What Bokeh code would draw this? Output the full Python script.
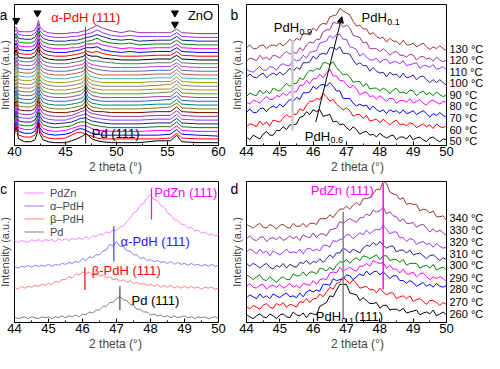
import math
import numpy as np
from bokeh.plotting import figure
from bokeh.models import (Label, Arrow, NormalHead, FixedTicker, Legend, LegendItem, Range1d)
from bokeh.layouts import row, column
from bokeh.embed import file_html
from bokeh.resources import INLINE

FONT = "Liberation Sans"

# ---------------- Panel a : in-situ XRD, 30 scans (2 theta 40-60) ----------------
theta_a = [40.0, 40.15, 40.4, 41.0, 41.6, 42.0, 42.2, 42.35, 42.5, 42.8, 43.3, 44.0,
           45.0, 45.6, 46.1, 46.5, 46.8, 47.0, 47.2, 47.6, 48.1, 48.6, 49.5, 50.5, 51.3, 52.2,
           54.0, 55.3, 55.9, 56.4, 58.0, 60.0]
a01 = [9,17,4,1,1,3,9,20,9,3,1,0, 0,2,4,6,8,10,8,4,2,1,0,0,0,0, 2,2,8,1,0,0]
a02 = [8,15,4,2,2,4,9,18,9,3,1,0, 1,4,7,7,6,5,4,3,1,0,0,0,0,0, 0,1,6,1,0,0]
a03 = [8,15,4,2,2,4,9,17,8,3,1,0, 1,3,6,7,6,5,4,2,1,0,0,0,0,0, 0,1,6,1,0,-1]
a04 = [8,14,4,2,2,4,9,17,8,3,1,0, 1,3,5,6,6,6,5,3,1,1,0,0,0,0, 1,1,6,1,0,0]
a05 = [7,14,3,2,2,4,9,16,8,3,1,0, 1,2,5,6,6,6,5,3,2,1,0,0,0,0, 1,1,6,1,0,0]
a06 = [7,14,3,2,2,4,9,16,8,3,1,0, 1,2,4,6,6,7,5,3,2,1,0,0,0,0, 1,1,6,1,0,0]
a07 = [7,13,3,2,2,4,9,16,8,3,1,0, 0,2,4,5,6,7,5,3,2,1,0,0,0,0, 1,1,6,1,0,0]
a08 = [7,13,3,2,2,4,9,16,8,3,1,0, 0,1,3,5,6,8,5,3,2,1,0,0,0,0, 1,1,6,1,0,0]
a09 = [7,13,3,2,2,4,9,16,8,3,1,0, 0,1,2,4,5,9,5,2,1,1,0,0,0,0, 1,1,6,1,0,0]
a10 = [7,13,3,2,2,4,9,15,8,3,1,0, 0,1,2,3,5,10,5,2,1,0,0,0,0,0, 1,2,6,1,0,0]
a11 = [7,13,3,2,2,4,9,15,8,3,1,0, 0,1,2,3,5,10,5,2,1,0,0,0,0,0, 1,1,6,1,0,0]
a12 = [7,12,3,2,2,4,9,15,8,3,1,0, 0,1,2,3,5,11,5,2,1,0,0,0,0,0, 1,2,6,1,0,0]
a13 = [7,12,3,2,2,4,9,15,8,3,1,0, 0,1,2,3,6,11,6,2,1,0,0,0,0,0, 1,1,6,1,0,0]
a14 = [7,12,3,2,2,4,9,15,8,3,1,0, 0,1,2,3,5,10,5,2,1,0,0,0,0,0, 1,2,6,1,0,0]
a15 = [7,12,3,2,2,4,9,15,8,3,1,0, 0,1,2,3,5,10,5,2,1,0,0,0,0,0, 1,1,6,1,0,0]
a16 = [7,12,3,2,2,4,8,15,7,3,1,0, 0,1,2,3,5,10,5,2,1,0,0,0,0,0, 1,2,6,1,0,0]
a17 = [7,12,3,2,2,4,8,15,7,3,1,0, 0,1,2,3,5,9,5,2,1,0,0,0,0,0, 1,1,6,1,0,0]
a18 = [6,12,3,2,2,4,8,15,7,3,1,0, 0,1,2,3,5,9,5,2,1,0,0,0,0,0, 1,1,6,1,0,0]
a19 = [6,12,3,2,2,4,8,14,7,3,1,0, 0,1,2,3,4,9,5,3,1,0,0,0,0,0, 1,1,6,1,0,0]
a20 = [6,12,3,2,2,4,8,14,7,3,1,0, 0,1,2,3,4,9,5,3,2,1,0,0,0,0, 1,1,6,1,0,0]
a21 = [6,11,3,2,2,4,8,14,7,3,1,0, 0,1,2,3,4,8,5,3,2,1,0,0,0,0, 1,1,5,1,0,0]
a22 = [6,11,3,2,2,4,8,14,7,3,1,0, 0,1,2,3,4,8,5,3,3,2,1,0,0,0, 1,1,5,1,0,0]
a23 = [6,11,3,2,2,4,8,14,7,3,1,0, 0,1,2,3,4,7,5,4,4,2,1,0,0,0, 1,1,5,1,0,0]
a24 = [6,10,3,2,2,4,8,14,7,3,1,0, 0,1,2,3,4,6,5,4,5,3,1,0,0,0, 1,1,5,1,0,0]
a25 = [6,10,3,2,2,4,8,14,7,3,1,0, 0,1,2,3,4,5,5,5,6,3,1,0,1,0, 1,1,5,1,0,0]
a26 = [6,9,3,2,2,4,8,14,7,3,1,0, 0,1,1,2,3,5,5,5,6,4,2,0,1,0, 1,1,5,1,0,0]
a27 = [6,9,3,2,2,4,8,14,7,3,1,0, 0,1,1,2,3,4,4,5,7,4,2,1,2,0, 1,1,5,1,0,0]
a28 = [5,8,3,2,2,4,8,14,7,3,1,0, 0,1,1,2,3,4,4,5,7,5,2,1,2,0, 1,1,5,1,0,0]
a29 = [5,8,3,2,2,4,8,14,7,3,1,0, 0,1,1,2,3,3,4,5,8,5,2,1,2,1, 1,1,5,1,0,0]
a30 = [5,7,2,2,2,4,8,14,7,3,1,0, 0,1,1,2,3,3,4,6,9,6,3,1,3,1, 1,1,5,1,0,0]
scans_a = [a01, a02, a03, a04, a05, a06, a07, a08, a09, a10, a11, a12, a13, a14, a15,
           a16, a17, a18, a19, a20, a21, a22, a23, a24, a25, a26, a27, a28, a29, a30]
znO_marks_x = [40.17, 42.25, 55.73, 55.73]
znO_marks_y = [133, 141, 141, 129]
ticks_a = [40, 45, 50, 55, 60]
minor_a = [42.5, 47.5, 52.5, 57.5]

# ---------------- Panel b : 50-130 C (2 theta 44.0-50.0, step 0.1) ----------------
temps_b = ["50 °C", "60 °C", "70 °C", "80 °C", "90 °C", "100 °C", "110 °C", "120 °C", "130 °C"]
b50 = [3,0,5,3,1,6,9,5,5,10, 10,14,11,16,16,17,24,25,30,27, 32,30,32,25,26,27,19,20,16,17,
       13,10,14,11,6,8,9,5,6,3, 7,4,2,4,5,0,3,3,1,5, 0,2,3,0,-2,2,3,0,-2,1,0]
b60 = [-1,2,1,-1,5,1,4,0,6,5, 4,8,12,9,12,12,18,16,22,26, 26,29,28,34,31,26,28,23,20,17,
       19,16,10,12,12,8,11,5,6,7, 3,7,4,1,4,6,1,2,0,3, 2,-2,0,2,-1,1,-3,2,-1,-2,0]
b70 = [0,4,0,0,4,5,1,5,7,5, 9,6,10,14,12,16,14,21,21,22, 28,25,29,30,28,32,28,23,23,15,
       15,15,10,7,9,7,8,3,7,3, 1,3,-1,3,1,2,-1,3,-1,0, 2,-2,0,2,-1,-5,-1,-3,0,-3,-5]
b80 = [1,-1,3,2,0,4,7,4,4,8, 7,11,8,12,12,12,19,19,24,21, 26,26,31,27,32,36,29,29,24,24,
       20,16,19,15,9,11,12,7,8,4, 8,5,2,5,5,0,3,3,1,5, 0,2,4,0,-2,2,3,1,-1,2,1]
b90 = [-1,3,1,0,6,2,5,2,8,6, 5,9,13,10,13,13,19,17,23,27, 26,29,28,35,35,33,36,30,26,22,
       23,20,14,15,15,10,13,7,8,8, 5,8,6,2,6,8,3,4,2,6, 5,0,3,5,1,3,0,4,1,-1,1]
b100 = [0,3,0,-1,2,4,-1,2,4,2, 5,2,5,9,6,10,8,15,15,16, 22,19,24,25,24,31,31,29,32,25,
        25,24,18,13,15,12,12,6,10,6, 4,5,0,5,2,3,-1,4,-1,0, 2,-3,0,1,-3,-6,-3,-6,-3,-6,-9]
b110 = [2,0,-1,2,5,1,1,5,4,1, 6,8,6,6,13,11,12,17,14,20, 21,22,30,31,32,38,35,39,39,34,
        34,26,25,23,16,19,15,12,12,14, 9,12,13,8,10,10,8,11,6,7, 8,9,3,6,6,4,7,2,3,5,1]
b120 = [-1,2,1,-1,5,1,3,0,5,4, 2,6,9,6,8,7,13,10,16,19, 18,22,22,30,32,32,40,39,39,35,
        37,34,26,25,24,18,19,12,12,12, 9,12,9,5,8,9,5,5,3,6, 5,0,3,4,1,2,-1,3,0,-2,0]
b130 = [0,3,-1,-1,2,3,-1,2,3,2, 5,2,5,9,6,10,8,15,15,15, 21,18,24,26,25,33,34,35,42,39,
        37,35,28,23,24,20,20,14,16,12, 10,11,6,10,7,7,3,8,3,3, 5,1,3,5,1,-2,1,-1,2,-1,-3]
scans_b = [b50, b60, b70, b80, b90, b100, b110, b120, b130]
offset_b = [6, 21, 35, 45, 53, 73, 79, 91, 104]
label_y_b = [5, 17, 29, 42, 54, 66, 78, 91, 103]

# ---------------- Panel c : references ----------------
c_pd = [1,-1,0,1,-1,1,0,-1,1,0, 1,-1,1,0,2,0,2,1,3,1, 4,3,6,5,8,8,12,12,16,16,
        20,22,19,18,14,13,9,9,6,6, 3,4,2,3,1,2,0,2,0,1, 2,0,1,-1,1,0,1,-1,0,1,-1]
c_beta = [1,-1,2,0,2,1,3,2,4,3, 5,4,7,6,9,9,12,11,15,14, 17,15,17,14,16,13,14,11,12,9,
          10,7,9,6,8,5,6,4,5,3, 4,2,4,1,3,1,3,0,2,0, 2,0,2,0,1,-1,1,0,1,-1,0]
c_alpha = [1,-1,1,0,2,0,2,1,2,1, 3,1,3,2,4,3,5,4,6,5, 9,7,11,10,13,13,17,18,24,22,
           27,22,22,17,17,13,13,9,10,7, 8,6,7,5,6,4,6,3,5,3, 4,2,4,2,3,1,3,1,3,1,2]
c_pdzn = [1,-1,1,0,-1,2,0,2,0,2, 1,2,0,3,1,3,1,3,2,4, 2,5,3,6,5,8,7,10,9,12,
          11,15,16,21,24,30,32,38,40,46, 49,44,43,38,36,30,28,23,22,18, 18,14,15,11,12,9,10,7,8,6,7]
offset_c = [5, 36, 58, 85]
legend_c = ["PdZn", "α–PdH", "β–PdH", "Pd"]

# ---------------- Panel d : 260-340 C ----------------
temps_d = ["260 °C", "270 °C", "280 °C", "290 °C", "300 °C", "310 °C", "320 °C", "330 °C", "340 °C"]
d260 = [2,0,-2,1,3,0,-1,3,1,-2, 2,3,0,-1,5,2,1,4,-1,4, 3,2,11,13,15,22,21,28,34,34,
        34,25,24,23,17,20,17,14,14,15, 9,12,12,7,8,8,6,9,4,5, 6,7,2,4,5,3,7,1,3,5,2]
d270 = [1,-2,2,0,-2,2,4,0,-1,4, 2,5,0,3,2,0,6,5,9,5, 9,9,14,11,16,21,19,25,26,32,
        28,25,29,25,20,21,22,18,19,15, 20,16,13,15,15,9,11,12,9,12, 6,8,9,6,3,7,7,5,2,5,3]
d280 = [-1,2,0,-2,3,-1,1,-2,3,1, -1,2,4,0,1,-1,4,0,5,7, 5,7,6,13,13,12,19,17,18,19,
        23,22,18,21,24,22,27,23,26,27, 23,26,23,19,22,22,17,17,14,17, 15,11,13,15,11,13,10,14,11,10,12]
d290 = [0,3,-1,-2,1,2,-3,0,1,-1, 2,-2,0,3,-1,1,-2,3,2,1, 6,2,7,8,7,14,15,14,20,16,
        18,20,17,16,21,21,24,21,27,25, 24,25,19,22,18,18,14,18,13,13, 15,10,13,14,10,7,10,8,10,8,5]
d300 = [2,0,-3,0,2,-3,-4,0,-3,-6, -2,0,-3,-3,3,1,1,5,1,5, 5,3,9,8,6,10,7,12,16,15,
        18,14,18,20,17,22,21,19,21,23, 18,22,22,17,18,18,15,18,12,14, 14,14,9,11,12,9,13,7,9,10,7]
d310 = [1,-2,1,-1,-4,-1,1,-3,-5,-1, -3,1,-4,0,-2,-3,2,1,4,0, 3,2,6,2,6,10,7,12,12,17,
        15,12,16,14,12,17,20,19,23,20, 24,20,17,19,19,13,15,15,12,15, 10,11,12,9,6,9,10,7,4,7,5]
d320 = [-1,2,0,-3,2,-2,0,-5,0,-2, -4,-1,2,-2,-1,-2,2,-3,2,3, 0,2,0,6,6,4,11,10,12,13,
        17,17,13,16,19,17,22,18,21,23, 22,27,23,18,20,20,14,14,10,13, 12,7,9,10,7,8,4,8,5,3,4]
d330 = [0,3,-1,-2,1,2,-3,0,1,-1, 2,-2,0,3,0,2,-2,4,2,1, 6,1,5,5,3,9,10,11,18,16,
        19,21,19,17,22,22,26,24,30,28, 29,33,26,28,24,23,18,21,16,16, 17,12,14,15,11,7,10,7,9,6,3]
d340 = [2,0,-2,1,3,-1,-2,2,0,-3, 1,2,-1,-2,3,0,0,3,-1,3, 3,2,8,8,8,12,9,14,18,18,
        21,18,22,25,22,29,29,30,34,39, 38,47,45,36,34,33,28,30,23,24, 23,23,16,18,17,14,16,10,10,11,6]
scans_d = [d260, d270, d280, d290, d300, d310, d320, d330, d340]
offset_d = [6, 16, 27, 38, 48, 61, 75, 88, 101]
label_y_d = [9, 22, 35, 47, 60, 72, 85, 97, 110]

theta_bcd = np.round(np.linspace(44.0, 50.0, 61), 2)
ticks_bcd = [44, 45, 46, 47, 48, 49, 50]
minor_bcd = [44.5, 45.5, 46.5, 47.5, 48.5, 49.5]

temp_colors = ["#000000", "#FF0000", "#0000FF", "#FF00FF", "#008000",
               "#1F1F8F", "#9933FF", "#993399", "#993333"]
mid_colors = ["#800000", "#808000", "#008080", "#3060C0", "#A04080", "#40A040", "#C08040",
              "#808080", "#A0A000", "#40B0C0", "#B06040", "#6060C0", "#C040C0", "#408060"]
colors_a = temp_colors[:8] + mid_colors + temp_colors[:8]


def make_panel(w, h, box_x, box_y, pad_l, pad_r, pad_t, border_b, ticks, minor):
    frame_w = w
    frame_h = h - border_b
    box_w = frame_w - pad_l - pad_r
    box_h = frame_h - pad_t
    ux = (box_x[1] - box_x[0]) / box_w
    uy = (box_y[1] - box_y[0]) / box_h
    p = figure(width=w, height=h,
               x_range=Range1d(box_x[0] - pad_l * ux, box_x[1] + pad_r * ux),
               y_range=Range1d(box_y[0], box_y[1] + pad_t * uy),
               y_axis_location=None, output_backend="svg", toolbar_location=None,
               min_border_left=0, min_border_right=0, min_border_top=0, min_border_bottom=border_b)
    p.grid.visible = False
    p.outline_line_color = None
    p.background_fill_color = "white"
    p.border_fill_color = "white"
    xa = p.xaxis[0]
    xa.bounds = (box_x[0], box_x[1])
    xa.ticker = FixedTicker(ticks=ticks, minor_ticks=minor)
    xa.major_tick_in = 4
    xa.major_tick_out = 0
    xa.minor_tick_in = 2
    xa.minor_tick_out = 0
    xa.major_label_standoff = 1
    xa.major_label_text_font = FONT
    xa.major_label_text_font_size = "13px"
    xa.major_label_text_color = "black"
    xa.axis_label = "2 theta (°)"
    xa.axis_label_text_font = FONT
    xa.axis_label_text_font_size = "12px"
    xa.axis_label_text_font_style = "normal"
    xa.axis_label_standoff = 1
    xa.axis_line_color = "black"
    # plot box (top, right, left sides; bottom is the axis line)
    p.quad(left=[box_x[0]], right=[box_x[1]], bottom=[box_y[0]], top=[box_y[1]],
           fill_alpha=0, line_color="black", line_width=1)
    # y-axis title
    p.add_layout(Label(x=box_x[0], y=(box_y[0] + box_y[1]) / 2, x_offset=-10,
                       text="Intensity (a.u.)", angle=math.pi / 2, text_font=FONT,
                       text_font_size="11px", text_align="center", text_baseline="middle"))
    return p


def txt(p, x, y, s, color="black", size="13px", align="left", baseline="middle", xo=0, yo=0):
    p.add_layout(Label(x=x, y=y, text=s, text_color=color, text_font=FONT, text_font_size=size,
                       text_align=align, text_baseline=baseline, x_offset=xo, y_offset=yo))


def sub_txt(p, x, y, main, sub, rest="", color="black", size=13):
    w_main = 1.945 * size
    txt(p, x, y, main, color, f"{size}px")
    txt(p, x, y, sub, color, "9px", xo=w_main + 0.5, yo=-4)
    if rest:
        w_sub = sum(0.278 if ch == "." else 0.556 for ch in sub) * 9
        txt(p, x, y, rest, color, f"{size}px", xo=w_main + w_sub + 1)


def stack(p, x, series, offsets, colors, width=1.0):
    rs = []
    for s, o, c in zip(series, offsets, colors):
        rs.append(p.line(x, np.asarray(s, float) + o, line_color=c, line_width=width))
    return rs


LW, RW = 230, 254
TH, BH = 176, 177
BB = 30

# ---- panel a
pa = make_panel(LW, TH, (40, 60), (0, 150), 14, 12, 4, BB, ticks_a, minor_a)
offset_a = [3 + 4 * i for i in range(len(scans_a))]
stack(pa, theta_a, scans_a, offset_a, colors_a)
pa.segment(x0=[46.96], y0=[60], x1=[46.96], y1=[126], line_color="#FF0000", line_width=1)
pa.segment(x0=[46.98], y0=[2], x1=[46.98], y1=[64], line_color="#000000", line_width=1)
pa.scatter(znO_marks_x, znO_marks_y, marker="inverted_triangle", size=7, color="black")
txt(pa, 43.6, 136, "α-PdH (111)", color="#FF0000")
txt(pa, 47.57, 13, "Pd (111)")
txt(pa, 57.0, 138, "ZnO")
txt(pa, 40, 150, "a", size="14px", align="center", xo=-11, yo=-11)

# ---- panel b
pb = make_panel(RW, TH, (44, 50), (0, 150), 16, 38, 4, BB, ticks_bcd, minor_bcd)
stack(pb, theta_bcd, scans_b, offset_b, temp_colors)
pb.segment(x0=[45.38], y0=[16], x1=[45.38], y1=[112], line_color="#C8C8C8", line_width=2.5)
pb.add_layout(Arrow(end=NormalHead(size=6, fill_color="black", line_color="black"),
                    x_start=46.08, y_start=25, x_end=46.86, y_end=137, line_width=1, line_color="black"))
sub_txt(pb, 44.82, 125, "PdH", "0.9")
sub_txt(pb, 47.45, 136, "PdH", "0.1")
sub_txt(pb, 45.75, 10, "PdH", "0.6")
for t, yv in zip(temps_b, label_y_b):
    txt(pb, 50, yv, t, size="11px", xo=3)
txt(pb, 44, 150, "b", size="14px", align="center", xo=-12, yo=-11)

# ---- panel c
pc = make_panel(LW, BH, (44, 50), (0, 148), 14, 12, 5, BB, ticks_bcd, minor_bcd)
c_colors = ["#808080", "#FF8080", "#8080FF", "#FF80FF"]
rc = stack(pc, theta_bcd, [c_pd, c_beta, c_alpha, c_pdzn], offset_c, c_colors)
pc.segment(x0=[47.1], y0=[13], x1=[47.1], y1=[38], line_color="#404040", line_width=1.2)
pc.segment(x0=[46.07], y0=[34], x1=[46.07], y1=[58], line_color="#FF0000", line_width=1.2)
pc.segment(x0=[46.92], y0=[64], x1=[46.92], y1=[101], line_color="#4040FF", line_width=1.2)
pc.segment(x0=[48.03], y0=[108], x1=[48.03], y1=[141], line_color="#FF00FF", line_width=1.2)
txt(pc, 47.44, 23, "Pd (111)")
txt(pc, 46.27, 55, "β-PdH (111)", color="#FF0000")
txt(pc, 47.12, 85, "α-PdH (111)", color="#2020FF")
txt(pc, 48.11, 136, "PdZn (111)", color="#FF00FF")
leg_pad, leg_row = 3, 13
leg_h = 2 * leg_pad + 4 * leg_row
leg = Legend(items=[LegendItem(label=legend_c[0], renderers=[rc[3]]),
                    LegendItem(label=legend_c[1], renderers=[rc[2]]),
                    LegendItem(label=legend_c[2], renderers=[rc[1]]),
                    LegendItem(label=legend_c[3], renderers=[rc[0]])],
             location=(14 + 10 - leg_pad, (BH - BB) - 8 - leg_h),
             border_line_alpha=0, background_fill_alpha=0,
             label_text_font=FONT, label_text_font_size="11px", glyph_width=20, glyph_height=leg_row,
             label_height=leg_row, spacing=0, padding=leg_pad, margin=0, label_standoff=6)
pc.add_layout(leg)
txt(pc, 44, 148, "c", size="14px", align="center", xo=-11, yo=-8)

# ---- panel d
pdd = make_panel(RW, BH, (44, 50), (0, 148), 16, 38, 5, BB, ticks_bcd, minor_bcd)
stack(pdd, theta_bcd, scans_d, offset_d, temp_colors)
pdd.segment(x0=[46.9], y0=[4], x1=[46.9], y1=[116], line_color="#808080", line_width=1.5)
pdd.segment(x0=[48.1], y0=[35], x1=[48.1], y1=[146], line_color="#FF00FF", line_width=1.5)
txt(pdd, 45.93, 139, "PdZn (111)", color="#FF00FF")
sub_txt(pdd, 46.08, 6, "PdH", "0.1", " (111)")
for t, yv in zip(temps_d, label_y_d):
    txt(pdd, 50, yv, t, size="11px", xo=3)
txt(pdd, 44, 148, "d", size="14px", align="center", xo=-12, yo=-8)

layout = column(row(pa, pb), row(pc, pdd))
open("out.html", "w").write(file_html(layout, INLINE))
